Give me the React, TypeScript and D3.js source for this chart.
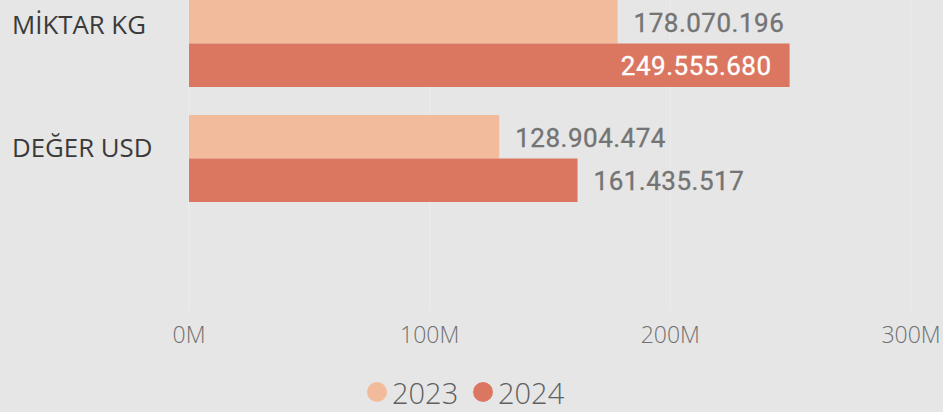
import React from "react";
import * as d3 from "d3";

const categories = ["MİKTAR KG", "DEĞER USD"];
const years = ["2023", "2024"];
const values2023 = [178070196, 128904474];
const values2024 = [249555680, 161435517];
const xTicks = [0, 100e6, 200e6, 300e6];
const colors = ["#f2bb9b", "#db7760"];

const W = 943;
const H = 412;

const locale = d3.formatLocale({ decimal: ",", thousands: ".", grouping: [3], currency: ["", ""] });
const fmt = locale.format(",d");

export default function App() {
  const x = d3.scaleLinear().domain([0, 300e6]).range([189, 911]);
  const y = d3.scaleBand<string>().domain(categories).range([-28, 230]).paddingInner(0.2435).paddingOuter(0.2435);
  const yi = d3.scaleBand<string>().domain(years).range([0, y.bandwidth()]);
  const series = [values2023, values2024];
  const valueFont = "Roboto, sans-serif";
  const uiFont = "'Open Sans', 'Noto Sans', sans-serif";

  return (
    <svg width={W} height={H} style={{ position: "fixed", top: 0, left: 0, background: "#e6e6e6" }}>
      <rect x={0} y={0} width={W} height={H} fill="#e6e6e6" />
      {xTicks.map((t) => (
        <line key={"g" + t} x1={x(t)} x2={x(t)} y1={0} y2={310} stroke="#ececec" strokeWidth={1} />
      ))}
      {categories.map((c, ci) =>
        years.map((yr, si) => {
          const v = series[si][ci];
          const y0 = (y(c) ?? 0) + (yi(yr) ?? 0);
          const h = yi.bandwidth();
          const xe = x(v);
          const inside = xe + 170 > W;
          return (
            <g key={c + yr}>
              <rect x={x(0)} y={y0} width={xe - x(0)} height={h} fill={colors[si]} />
              <text
                x={inside ? xe - 18 : xe + 16}
                y={y0 + h / 2 + 10}
                textAnchor={inside ? "end" : "start"}
                fontFamily={valueFont}
                fontSize={26}
                fontWeight={400}
                letterSpacing={0.5}
                fill={inside ? "#ffffff" : "#747474"}
                stroke={inside ? "#ffffff" : "#747474"}
                strokeWidth={0.35}
              >
                {fmt(v)}
              </text>
            </g>
          );
        })
      )}
      {categories.map((c, ci) => (
        <text
          key={"c" + c}
          x={12}
          y={(y(c) ?? 0) + y.bandwidth() / 2 - 1.5 - (ci === 0 ? 8 : 0)}
          fontFamily={uiFont}
          fontSize={25.8}
          fill="#3a3a3a"
        >
          {c}
        </text>
      ))}
      {xTicks.map((t) => (
        <text
          key={"t" + t}
          x={x(t)}
          y={343}
          textAnchor="middle"
          fontFamily={uiFont}
          fontSize={23}
          fontWeight={300}
          fill="#707070"
        >
          {t / 1e6 + "M"}
        </text>
      ))}
      {years.map((yr, i) => {
        const lx = 377 + i * 106;
        return (
          <g key={"l" + yr}>
            <circle cx={lx} cy={392} r={10} fill={colors[i]} />
            <text x={lx + 15} y={404} fontFamily={uiFont} fontSize={29} fontWeight={300} fill="#606060">
              {yr}
            </text>
          </g>
        );
      })}
    </svg>
  );
}
